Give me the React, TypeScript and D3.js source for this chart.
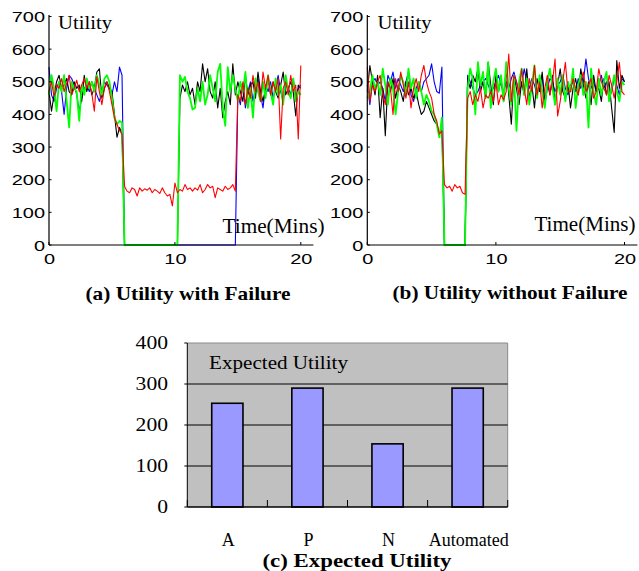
import React from 'react';
import * as d3 from 'd3';

// ---------- data ----------
const TIME_STEP = 0.2; // minutes between samples (101 samples, 0..20 min)
const xTickValues = [0, 10, 20];
const yTickValues = [0, 100, 200, 300, 400, 500, 600, 700];

// (a) Utility with Failure
const redA = [
  470, 500, 455, 490, 480, 510, 470, 495, 520, 460, 480, 505, 470, 490, 510, 480, 500, 465, 410, 515, 470, 430, 480, 500, 470,
  430, 390, 370, 350, 340,
  180, 165, 160, 175, 170, 150, 175, 165, 172, 168, 175, 160, 170, 165, 158, 175, 160, 150, 155, 120,
  190, 160, 170, 165, 185, 170, 175, 165, 175, 168, 185, 160, 170, 185, 175, 180, 145, 175, 170, 165,
  180, 170, 175, 185, 165,
  460, 440, 500, 430, 480, 450, 520, 470, 500, 440, 530, 480, 520, 460, 500, 470, 510, 325, 480, 500, 460, 520, 470, 490, 325, 550,
];
const greenA = [
  460, 520, 480, 410, 500, 470, 520, 440, 360, 500, 480, 470, 380, 490, 460, 510, 480, 500, 470, 520, 490, 460, 510, 520, 500,
  450, 390, 370, 380, 375,
  0, 0, 0, 0, 0, 0, 0, 0, 0, 0, 0, 0, 0, 0, 0, 0, 0, 0, 0, 0, 0, 0,
  520, 500, 515, 470, 450, 415, 420, 480, 440, 500, 430, 460, 520, 480, 440, 530, 555, 420, 365, 545, 470, 520, 480,
  440, 500, 470, 530, 420, 480, 390, 510, 470, 440, 500, 450, 520, 470, 430, 510, 460, 490, 430, 520, 470, 450, 510, 440, 470, 460,
];
const blackA = [
  470, 410, 460, 500, 520, 480, 490, 510, 470, 460, 500, 480, 490, 440, 520, 470, 500, 460, 480, 530, 540, 450, 480, 500, 480,
  470, 400, 330, 360, 340,
  0, 0, 0, 0, 0, 0, 0, 0, 0, 0, 0, 0, 0, 0, 0, 0, 0, 0, 0, 0, 0, 0,
  450, 490, 470, 500, 460, 480, 430, 500, 470, 555, 500, 540, 470, 450, 500, 420, 480, 390, 440, 470, 430, 555, 460,
  500, 470, 440, 520, 460, 490, 500, 450, 530, 470, 440, 480, 510, 460, 500, 470, 450, 490, 530, 460, 480, 500, 470, 395, 490, 480,
];
const blueA = [
  545, 460, 440, 480, 500, 470, 400, 480, 520, 510, 490, 460, 410, 450, 480, 490, 470, 500, 480, 460, 440, 470, 500, 490, 480,
  460, 500, 470, 545, 520,
  0, 0, 0, 0, 0, 0, 0, 0, 0, 0, 0, 0, 0, 0, 0, 0, 0, 0, 0, 0, 0, 0, 0, 0, 0,
  0, 0, 0, 0, 0, 0, 0, 0, 0, 0, 0, 0, 0, 0, 0, 0, 0, 0, 0, 0,
  460, 430, 490, 420, 470, 500, 440, 480, 510, 460, 420, 490, 470, 500, 450, 480, 520, 470, 440, 500, 480, 460, 510, 450, 480, 490,
];

// (b) Utility without Failure
const redB = [
  545, 440, 490, 470, 500, 520, 460, 430, 500, 480, 400, 510, 470, 530, 490, 450, 500, 420, 480, 510, 470, 520, 550, 500, 470,
  450, 400, 380, 340, 350,
  185, 175, 180, 165, 185, 175, 180, 160, 155,
  450, 470, 430, 460, 440, 480, 420, 460, 450, 470, 440, 500, 430, 460, 445, 470,
  585,
  440, 520, 500, 460, 540, 480, 430, 510, 470, 550, 460, 500, 420, 480, 520, 460, 500, 570, 395, 440,
  500, 560, 470, 470, 510, 480, 460, 500, 530, 470, 490, 510, 450, 470, 540, 500, 480, 460, 520, 490,
  450, 500, 560, 470, 460,
];
const greenB = [
  450, 470, 520, 480, 500, 460, 540, 490, 430, 510, 480, 400, 470, 520, 500, 460, 540, 480, 510, 450, 500, 470, 430, 460, 440,
  410, 400, 370, 330, 390,
  0, 0, 0, 0, 0, 0, 0, 0, 0,
  480, 540, 510, 400, 560, 490, 530, 450, 560, 420,
  500, 540, 470, 520, 440, 560, 480, 430, 520, 350,
  500, 540, 460, 510, 430, 490, 550, 450, 520, 470,
  420, 500, 540, 480, 430, 510, 460, 520, 440, 500,
  470, 540, 420, 490, 520, 460, 500, 360, 540, 470,
  430, 510, 460, 500, 530, 440, 480, 520, 470, 440,
  500, 490,
];
const blackB = [
  470, 550, 500, 460, 520, 390, 480, 335, 500, 470, 510, 450, 490, 470, 440, 500, 460, 480, 450, 470, 430, 400, 410, 440, 420,
  400, 380, 370, 340, 360,
  0, 0, 0, 0, 0, 0, 0, 0, 0,
  510, 480, 520, 500, 540, 470, 500, 450, 560, 490,
  430, 520, 470, 510, 440, 540, 460, 370, 520, 480,
  430, 500, 460, 540, 450, 490, 420, 510, 470, 530,
  440, 500, 460, 520, 430, 490, 540, 470, 450, 500,
  420, 480, 510, 460, 540, 490, 450, 500, 430, 520,
  470, 480, 440, 510, 460, 500, 420, 345, 565, 480,
  520, 500,
];
const blueB = [
  490, 430, 500, 510, 490, 500, 480, 440, 520, 500, 530, 480, 510, 490, 470, 500, 530, 460, 440, 480, 500, 470, 500, 510, 520,
  555, 500, 470, 465, 545,
  0, 0, 0, 0, 0, 0, 0, 0, 0,
  520, 500, 480, 460, 470, 490, 500, 510, 490, 470,
  480, 500, 520, 490, 470, 500, 480, 510, 530, 500,
  470, 490, 540, 500, 480, 510, 490, 460, 500, 520,
  430, 480, 510, 500, 470, 490, 500, 520, 480, 460,
  490, 500, 470, 510, 480, 500, 570, 510, 480, 500,
  470, 490, 520, 480, 500, 450, 470, 510, 490, 460,
  510, 500,
];

// (c) Expected Utility
const barCategories = ['A', 'P', 'N', 'Automated'];
const barValues = [253, 290, 154, 290];
const barTickValues = [0, 100, 200, 300, 400];

// ---------- helpers ----------
const SANS = '"Liberation Sans", Arial, Helvetica, sans-serif';
const SERIF = '"Liberation Serif", "Times New Roman", Times, serif';

type Series = { values: number[]; color: string; width: number };

function LinePanel(props: {
  x0: number; pxPerMin: number; series: Series[];
  utilX: number; timeX: number; timeY: number; timeW: number;
}) {
  const { x0, pxPerMin, series, utilX, timeX, timeY, timeW } = props;
  const x = d3.scaleLinear().domain([0, 21]).range([x0, x0 + 21 * pxPerMin]);
  const y = d3.scaleLinear().domain([0, 700]).range([245, 16.5]);
  const line = d3.line<number>().x((_, i) => x(i * TIME_STEP)).y((d) => y(d));
  const sx = 1.33;
  return (
    <g>
      {series.map((s, k) => (
        <path key={k} d={line(s.values) || ''} fill="none" stroke={s.color}
          strokeWidth={s.width} strokeLinejoin="round" />
      ))}
      <line x1={x0} x2={x0} y1={y(0)} y2={15} stroke="#000" strokeWidth={1.2} />
      <line x1={x0} x2={x(21)} y1={y(0)} y2={y(0)} stroke="#000" strokeWidth={1.2} />
      {yTickValues.map((v) => (
        <g key={v}>
          <line x1={x0} x2={x0 + 2.5} y1={y(v)} y2={y(v)} stroke="#000" strokeWidth={1} />
          <text transform={`translate(${x0 - 4},${y(v) + 5.5}) scale(${sx},1)`} textAnchor="end"
            fontFamily={SANS} fontSize={15} fill="#000">{v}</text>
        </g>
      ))}
      {xTickValues.map((v) => (
        <g key={v}>
          <line x1={x(v)} x2={x(v)} y1={y(0)} y2={y(0) - 3} stroke="#000" strokeWidth={1} />
          <text transform={`translate(${x(v) + 0.5},${263.5}) scale(${sx},1)`} textAnchor="middle"
            fontFamily={SANS} fontSize={15} fill="#000">{v}</text>
        </g>
      ))}
      <text x={utilX} y={29} fontFamily={SERIF} fontSize={19} fill="#000" textLength={54}
        lengthAdjust="spacingAndGlyphs">Utility</text>
      <text x={timeX} y={timeY} fontFamily={SERIF} fontSize={21} fill="#000" textLength={timeW}
        lengthAdjust="spacingAndGlyphs">Time(Mins)</text>
    </g>
  );
}

function BarPanel() {
  const left = 187.3, right = 507.7, top = 343, bottom = 507;
  const x = d3.scaleBand<string>().domain(barCategories).range([left, right])
    .paddingInner(0.61).paddingOuter(0.305);
  const y = d3.scaleLinear().domain([0, 400]).range([bottom, top]);
  const step = x.step();
  return (
    <g>
      <rect x={left} y={top} width={right - left} height={bottom - top} fill="#c0c0c0" />
      <line x1={left} x2={right} y1={top} y2={top} stroke="#8a8a8a" strokeWidth={1} />
      <line x1={right} x2={right} y1={top} y2={bottom} stroke="#8a8a8a" strokeWidth={1} />
      {barTickValues.filter((v) => v > 0 && v < 400).map((v) => (
        <line key={v} x1={left} x2={right} y1={y(v)} y2={y(v)} stroke="#000" strokeWidth={1} />
      ))}
      {barCategories.map((c, i) => (
        <rect key={c} x={x(c)} y={y(barValues[i])} width={x.bandwidth()} height={bottom - y(barValues[i])}
          fill="#9999ff" stroke="#000" strokeWidth={1.6} />
      ))}
      <line x1={left} x2={left} y1={top} y2={bottom} stroke="#000" strokeWidth={1} />
      <line x1={left} x2={right} y1={bottom} y2={bottom} stroke="#000" strokeWidth={1.5} />
      {barTickValues.map((v) => (
        <g key={v}>
          <line x1={left - 3} x2={left} y1={y(v)} y2={y(v)} stroke="#000" strokeWidth={1} />
          <text transform={`translate(168,${y(v) + 6}) scale(1.2,1)`} textAnchor="end"
            fontFamily={SERIF} fontSize={18} fill="#000">{v}</text>
        </g>
      ))}
      {d3.range(barCategories.length + 1).map((i) => (
        <line key={i} x1={left + i * step} x2={left + i * step} y1={bottom} y2={bottom - 7} stroke="#000" strokeWidth={1} />
      ))}
      {barCategories.map((c) => (
        <text key={c} x={(x(c) || 0) + x.bandwidth() / 2 + 1} y={546} textAnchor="middle"
          fontFamily={SERIF} fontSize={18} fill="#000">{c}</text>
      ))}
      <text x={209} y={368.5} fontFamily={SERIF} fontSize={18} fill="#000" textLength={139}
        lengthAdjust="spacingAndGlyphs">Expected Utility</text>
      <text x={357} y={566.5} textAnchor="middle" fontFamily={SERIF} fontSize={19.5} fontWeight="bold" fill="#000"
        textLength={189} lengthAdjust="spacingAndGlyphs">(c) Expected Utility</text>
    </g>
  );
}

export default function App() {
  const seriesA: Series[] = [
    { values: blueA, color: '#0000ff', width: 1.1 },
    { values: blackA, color: '#000000', width: 1.1 },
    { values: greenA, color: '#00ff00', width: 1.8 },
    { values: redA, color: '#ff0000', width: 1.1 },
  ];
  const seriesB: Series[] = [
    { values: blueB, color: '#0000ff', width: 1.1 },
    { values: blackB, color: '#000000', width: 1.1 },
    { values: greenB, color: '#00ff00', width: 1.8 },
    { values: redB, color: '#ff0000', width: 1.1 },
  ];
  return (
    <svg width={639} height={571} style={{ position: 'absolute', left: 0, top: 0, background: '#fff' }}>
      <rect x={0} y={0} width={639} height={571} fill="#fff" />
      <LinePanel x0={49} pxPerMin={12.59} series={seriesA} utilX={58} timeX={222.5} timeY={232.5} timeW={102} />
      <LinePanel x0={367.3} pxPerMin={12.86} series={seriesB} utilX={377.5} timeX={534.5} timeY={230.5} timeW={101} />
      <text x={188} y={300} textAnchor="middle" fontFamily={SERIF} fontSize={19} fontWeight="bold" fill="#000"
        textLength={205} lengthAdjust="spacingAndGlyphs">(a) Utility with Failure</text>
      <text x={510} y={298.5} textAnchor="middle" fontFamily={SERIF} fontSize={19} fontWeight="bold" fill="#000"
        textLength={235} lengthAdjust="spacingAndGlyphs">(b) Utility without Failure</text>
      <BarPanel />
    </svg>
  );
}
